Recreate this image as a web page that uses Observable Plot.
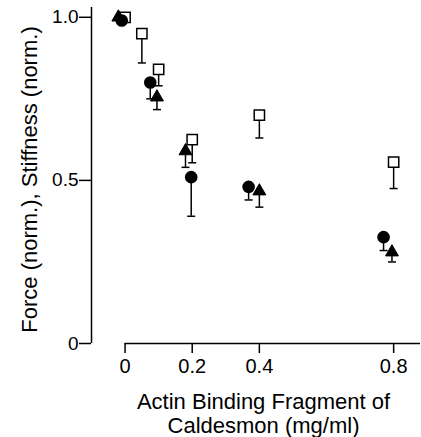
<!DOCTYPE html>
<html>
<head>
<meta charset="utf-8">
<script src="https://cdn.jsdelivr.net/npm/d3@7"></script>
<script src="https://cdn.jsdelivr.net/npm/@observablehq/plot@0.6"></script>
<style>
  html, body { margin: 0; padding: 0; background: #fff; }
</style>
</head>
<body>
<div id="chart"></div>
<script>
// Filled circles
const circleX   = [-0.01, 0.075, 0.197, 0.368, 0.77];
const circleY   = [0.99, 0.80, 0.51, 0.48, 0.326];
const circleLow = [null, 0.75, 0.39, 0.44, 0.285];
// Filled triangles
const triX   = [-0.02, 0.095, 0.18, 0.40, 0.795];
const triY   = [1.0, 0.755, 0.59, 0.467, 0.28];
const triLow = [null, 0.717, 0.54, 0.418, 0.25];
// Open squares
const sqX   = [0, 0.05, 0.10, 0.20, 0.40, 0.80];
const sqY   = [1.0, 0.95, 0.84, 0.625, 0.70, 0.556];
const sqLow = [null, 0.86, 0.79, 0.554, 0.63, 0.475];

const xTicks = [0, 0.2, 0.4, 0.8];
const yTicks = [0, 0.5, 1.0];
const xTitle = "Actin Binding Fragment of\nCaldesmon (mg/ml)";
const yTitle = "Force (norm.), Stiffness (norm.)";

const toRows = (xs, ys, lows, s) => xs.map((x, i) => ({x, y: ys[i], low: lows[i], s}));
const circles = toRows(circleX, circleY, circleLow, "circle");
const tris = toRows(triX, triY, triLow, "triangle");
const squares = toRows(sqX, sqY, sqLow, "square");
const all = [...circles, ...tris, ...squares];
const bars = all.filter(d => d.low != null);

const capSymbol = { draw(ctx) { ctx.moveTo(-4, 0); ctx.lineTo(4, 0); } };
const fmt = d => d === 0 ? "0" : d3.format(".1f")(d);

const font = "'Liberation Sans', Arial, Helvetica, sans-serif";

const chart = Plot.plot({
  width: 421,
  height: 437,
  marginLeft: 91,
  marginRight: 1,
  marginTop: 7,
  marginBottom: 94,
  style: { fontFamily: font, fontSize: "19px", color: "#000", background: "#fff" },
  x: { domain: [-0.1, 0.88] },
  y: { domain: [0, 1.03] },
  marks: [
    Plot.ruleX([-0.1], { y1: 0, y2: 1.03, stroke: "#000", strokeWidth: 1.5 }),
    Plot.ruleY([0], { x1: 0, x2: 0.88, stroke: "#000", strokeWidth: 1.5 }),
    Plot.axisY({ ticks: yTicks, tickSize: 12, tickPadding: 1, tickFormat: fmt, label: null, strokeWidth: 1.5, fontSize: 19 }),
    Plot.axisX({ ticks: xTicks, tickSize: 10, tickPadding: 5, tickFormat: fmt, label: null, strokeWidth: 1.5, fontSize: 20 }),
    Plot.ruleX(bars, { x: "x", y1: "y", y2: "low", stroke: "#000", strokeWidth: 1.5 }),
    Plot.dot(bars, { x: "x", y: "low", symbol: capSymbol, r: 4, stroke: "#000", strokeWidth: 1.5, fill: "none" }),
    Plot.dot(squares, { x: "x", y: "y", symbol: "square", r: 5.8, fill: "#fff", stroke: "#000", strokeWidth: 1.5 }),
    Plot.dot(tris, { x: "x", y: "y", symbol: "triangle", r: 4.8, fill: "#000", stroke: "#000", strokeWidth: 1 }),
    Plot.dot(circles, { x: "x", y: "y", symbol: "circle", r: 6.3, fill: "#000", stroke: "none" }),
    Plot.text([yTitle], { frameAnchor: "left", textAnchor: "middle", rotate: -90, dx: -62, dy: 4, fontSize: 22, fill: "#000" }),
    Plot.text([xTitle], { frameAnchor: "bottom", textAnchor: "middle", dx: 7.5, dy: 48, lineAnchor: "top", lineHeight: 1.09, fontSize: 22, fill: "#000" })
  ]
});
document.getElementById("chart").appendChild(chart);
</script>
</body>
</html>
